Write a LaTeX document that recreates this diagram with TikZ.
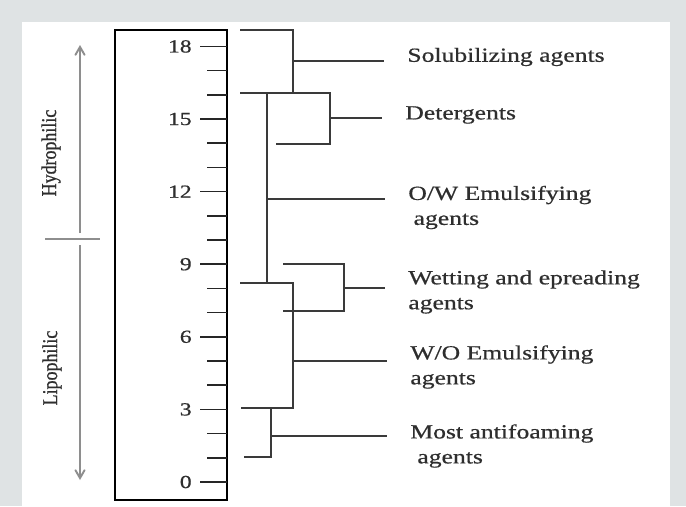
\documentclass[tikz,border=0pt]{standalone}
\usepackage{fontspec}
\setmainfont[FakeStretch=1.28,FakeBold=0.6]{Liberation Serif}
\newfontfamily\sidefont[FakeStretch=0.85,FakeBold=0.8]{Liberation Serif}
\usetikzlibrary{arrows}
\definecolor{pageGray}{HTML}{DFE3E4}
\definecolor{axisGray}{HTML}{8E8E8E}
\definecolor{treeBlack}{HTML}{3A3A3A}
\definecolor{inkGray}{HTML}{2E2E2E}

\begin{document}
\begin{tikzpicture}[
  x=1cm, y=1cm,
  font=\fontsize{11.4}{14.2}\selectfont,
  >=angle 60,
  hlb box/.style={draw=black, line width=1.2pt},
  hlb tick/.style={draw=black!85, line width=.85pt},
  tree/.style={draw=treeBlack, line width=.95pt},
  side arrow/.style={draw=axisGray, line width=1.1pt},
  agent/.style={anchor=west, align=left, inner sep=0pt, text=inkGray},
  num/.style={anchor=east, inner sep=0pt, text=inkGray,
    font=\fontsize{10.5}{12}\selectfont},
  side/.style={rotate=90, text=inkGray,
    font=\sidefont\fontsize{12}{14}\selectfont}
]

\useasboundingbox (0,0) rectangle (13.72,10.12);
\fill[pageGray] (0,0) rectangle (13.72,10.12);
\fill[white] (.44,0) rectangle (13.40,9.68);

% HLB scale, one tick per unit, numbers every 3
\draw[hlb box] (2.30,.12) rectangle (4.54,9.52);
\foreach \v in {0,...,18} {
  \pgfmathsetmacro{\yy}{.48+.484*\v}
  \draw[hlb tick] (4.14,\yy) -- (4.54,\yy);
}
\foreach \v in {0,3,...,18} {
  \pgfmathsetmacro{\yy}{.48+.484*\v}
  \node[num] (n\v) at (3.84,\yy) {\v};
  \draw[hlb tick] ([xshift=.16cm]n\v.east) -- (4.54,\yy);
}

% Left: direction arrows
\coordinate (split) at (1.60,5.34);
\draw[side arrow, ->] (1.60,5.46) -- (1.60,9.22);
\draw[side arrow] (.90,5.34) -- (2.00,5.34);
\draw[side arrow, ->] (1.60,5.22) -- (1.60,.52);
\node[side] (hydro) at (1.02,7.06) {Hydrophilic};
\node[side] (lipo) at (1.04,2.76) {Lipophilic};

% Right: brackets over the scale
\draw[tree] (4.80,9.52) -- (5.86,9.52) -- (5.86,8.26);
\draw[tree] (4.80,8.26) -- (6.60,8.26) -- (6.60,7.24) -- (5.52,7.24);
\draw[tree] (5.34,8.26) -- (5.34,4.46);
\draw[tree] (5.66,4.84) -- (6.88,4.84) -- (6.88,3.90) -- (5.66,3.90);
\draw[tree] (4.80,4.46) -- (5.86,4.46) -- (5.86,1.96) -- (4.82,1.96);
\draw[tree] (5.42,1.96) -- (5.42,.98) -- (4.88,.98);

\coordinate (jSol) at (5.86,8.90);
\coordinate (jDet) at (6.60,7.76);
\coordinate (jOW) at (5.34,6.14);
\coordinate (jWet) at (6.88,4.36);
\coordinate (jWO) at (5.86,2.90);
\coordinate (jAnti) at (5.42,1.40);

\node[agent] (sol) at (8.14,8.98) {Solubilizing agents};
\node[agent] (det) at (8.10,7.82) {Detergents};
\node[agent] (ow) at (8.16,5.97) {O/W Emulsifying\\\hspace*{3pt}agents};
\node[agent] (wet) at (8.16,4.28) {Wetting and epreading\\agents};
\node[agent] (wo) at (8.20,2.78) {W/O Emulsifying\\agents};
\node[agent] (anti) at (8.20,1.20) {Most antifoaming\\\hspace*{4pt}agents};

% Leaf connectors stop short of the texts
\foreach \j/\t in {jSol/sol, jDet/det, jOW/ow, jWet/wet, jWO/wo, jAnti/anti}
  \draw[tree, shorten >=.46cm] (\j) -- (\j -| \t.west);
\end{tikzpicture}
\end{document}
